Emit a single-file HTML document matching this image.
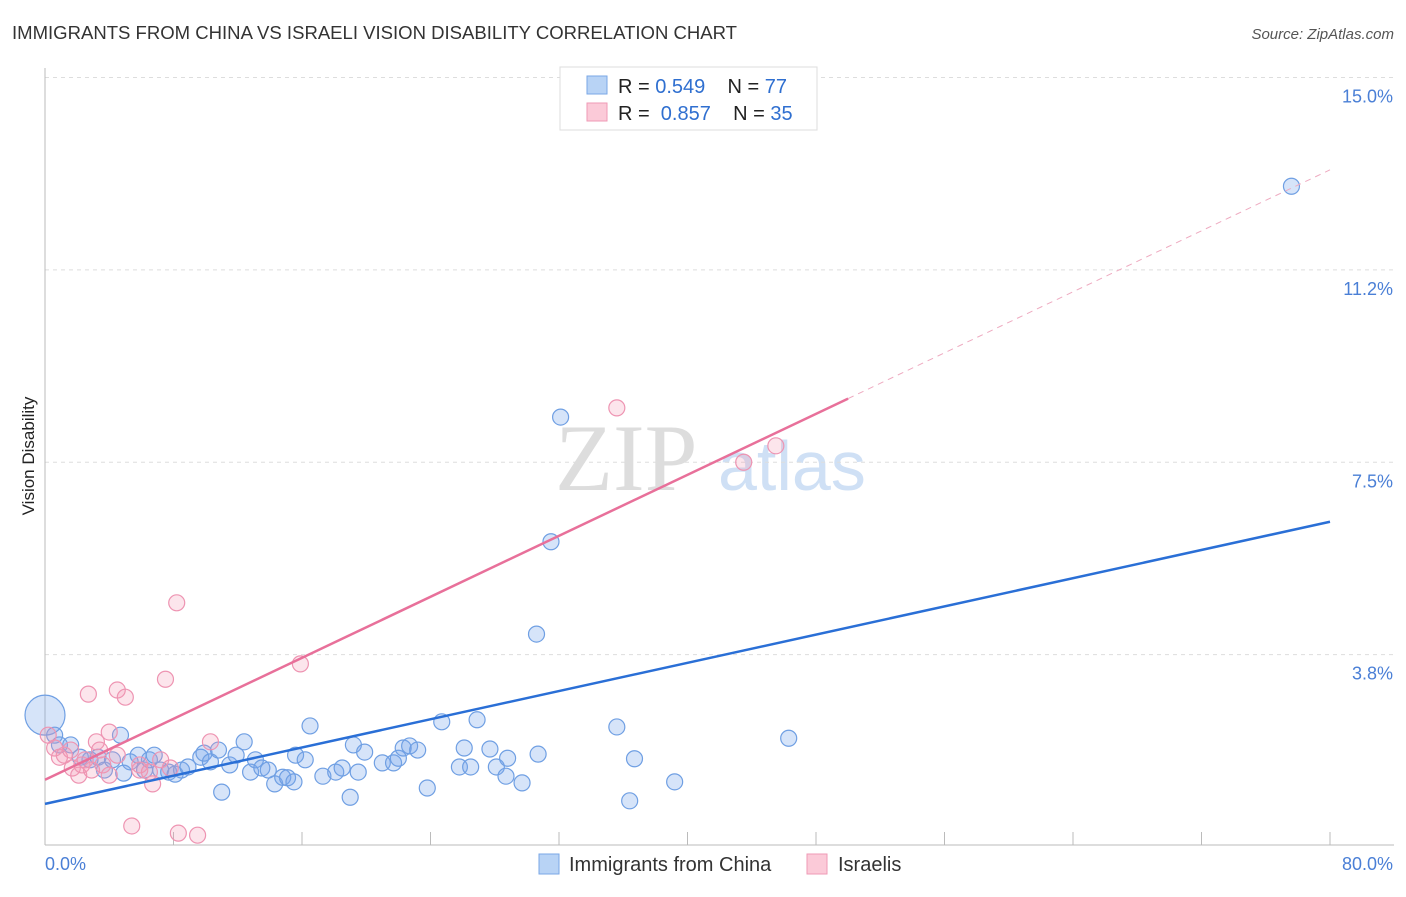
<!DOCTYPE html>
<html><head><meta charset="utf-8"><style>
body{margin:0;background:#fff;font-family:"Liberation Sans",sans-serif;}
</style></head><body>
<svg id="c" width="1406" height="892" xmlns="http://www.w3.org/2000/svg">
<text x="12" y="39" font-size="18" textLength="725" lengthAdjust="spacingAndGlyphs" fill="#333">IMMIGRANTS FROM CHINA VS ISRAELI VISION DISABILITY CORRELATION CHART</text>
<text x="1394" y="39" font-size="15" fill="#555" font-style="italic" text-anchor="end">Source: ZipAtlas.com</text>
<text x="34" y="456" font-size="17" fill="#222" text-anchor="middle" transform="rotate(-90 34 456)">Vision Disability</text>
<text x="555" y="490" font-size="95" fill="#ddd" font-family="Liberation Serif">ZIP</text>
<text x="718" y="490" font-size="70" fill="#cfe0f5">atlas</text>
<g id="grid"></g><g id="pts"></g><g id="lines"></g>
<rect x="560" y="67" width="257" height="63" fill="#fff" stroke="#ddd"/>
<rect x="587" y="76" width="20" height="18" fill="#b8d3f5" stroke="#7aa7e6"/>
<rect x="587" y="103" width="20" height="18" fill="#fbcad8" stroke="#ef9ab6"/>
<text x="618" y="93" font-size="20" fill="#222">R = <tspan fill="#2f6fd0">0.549</tspan>&#160;&#160;&#160; N = <tspan fill="#2f6fd0">77</tspan></text>
<text x="618" y="120" font-size="20" fill="#222">R = <tspan fill="#2f6fd0">&#160;0.857</tspan>&#160;&#160;&#160; N = <tspan fill="#2f6fd0">35</tspan></text>
<rect x="539" y="854" width="20" height="20" fill="#b8d3f5" stroke="#7aa7e6"/>
<text x="569" y="871" font-size="20" fill="#333">Immigrants from China</text>
<rect x="807" y="854" width="20" height="20" fill="#fbcad8" stroke="#ef9ab6"/>
<text x="838" y="871" font-size="20" fill="#333">Israelis</text>
<text x="45" y="870" font-size="18" fill="#4a7fd6">0.0%</text>
<text x="1393" y="870" font-size="18" fill="#4a7fd6" text-anchor="end">80.0%</text>
</svg>
<script>
const yTicks=[15.0,11.2,7.5,3.8];
const yTickVals=[15,11.25,7.5,3.75];
const chinaX=[0,0.6,0.9,1.6,2.2,2.8,3.3,3.7,4.2,4.7,4.9,5.3,5.8,6.2,6.5,6.8,7.2,7.7,8.1,8.5,8.9,9.7,9.9,10.3,10.8,11.0,11.5,11.9,12.4,12.8,13.1,13.5,13.9,14.3,14.8,15.1,15.5,15.6,16.2,16.5,17.3,18.1,18.5,19.0,19.2,19.5,19.9,21.0,21.7,22.0,22.3,22.7,23.2,23.8,24.7,25.8,26.1,26.5,26.9,27.7,28.1,28.7,28.8,29.7,30.6,30.7,31.5,32.1,35.6,36.4,36.7,39.2,46.3,77.6];
const chinaY=[2.57,2.18,1.99,1.99,1.75,1.70,1.75,1.50,1.70,2.18,1.44,1.66,1.79,1.50,1.70,1.79,1.50,1.46,1.42,1.50,1.56,1.75,1.83,1.66,1.89,1.07,1.60,1.79,2.05,1.46,1.70,1.54,1.50,1.23,1.36,1.35,1.27,1.79,1.70,2.36,1.38,1.46,1.54,0.97,1.99,1.46,1.85,1.64,1.64,1.73,1.93,1.97,1.89,1.15,2.44,1.56,1.93,1.56,2.48,1.91,1.56,1.38,1.73,1.25,4.15,1.81,5.95,8.38,2.34,0.90,1.72,1.27,2.12,12.88];
const isrX=[0.2,0.6,0.9,1.2,1.6,1.7,2.1,2.3,2.5,2.7,2.9,3.2,3.4,3.6,4.0,4.0,4.5,4.5,5.0,5.4,5.9,5.9,6.5,6.7,7.2,7.5,7.8,8.2,8.3,9.5,10.3,15.9,35.6,43.5,45.5];
const isrY=[2.18,1.93,1.75,1.79,1.89,1.54,1.40,1.60,1.70,2.98,1.50,2.05,1.89,1.60,2.24,1.40,3.06,1.79,2.92,0.41,1.50,1.60,1.46,1.23,1.70,3.27,1.54,4.76,0.27,0.23,2.05,3.57,8.56,7.50,7.82];
const chinaLine=[0.84,6.34];
const isrLine=[1.31,13.2];
const isrSolidEnd=50;
const X=v=>45+v/80*1285, Y=v=>847-v*51.3;
const NS="http://www.w3.org/2000/svg";
function mk(t,a,p){const e=document.createElementNS(NS,t);for(const k in a)e.setAttribute(k,a[k]);p.appendChild(e);return e;}
const grid=document.getElementById('grid');
yTickVals.forEach((v,i)=>{
 const l=mk('line',{x1:45,x2:1394,y1:Y(v),y2:Y(v),stroke:'#ddd','stroke-dasharray':'4 4'},grid);
 
 
 const t=mk('text',{x:1393,y:Y(v)+25,'font-size':18,fill:'#4a7fd6','text-anchor':'end'},grid);
 t.textContent=yTicks[i].toFixed(1)+'%';
 
 
});
const ax=mk('line',{x1:45,x2:45,y1:68,y2:845,stroke:'#bbb'},grid);


const bx=mk('line',{x1:45,x2:1394,y1:845,y2:845,stroke:'#bbb'},grid);


for(let i=0;i<=10;i++){const tk=mk('line',{x1:X(i*8),x2:X(i*8),y1:832,y2:845,stroke:'#bbb'},grid);
 
 }
const pts=document.getElementById('pts');
chinaX.forEach((x,i)=>{const c=mk('circle',{cx:X(x),cy:Y(chinaY[i]),r:i==0?20:8,fill:'rgba(120,165,235,0.3)',stroke:'#6f9fe3','stroke-width':1.2},pts);
 
 });
isrX.forEach((x,i)=>{const c=mk('circle',{cx:X(x),cy:Y(isrY[i]),r:8,fill:'rgba(245,150,180,0.25)',stroke:'#ee94b2','stroke-width':1.2},pts);
 
 });
const ln=document.getElementById('lines');
const bl=mk('line',{x1:X(0),y1:Y(chinaLine[0]),x2:X(80),y2:Y(chinaLine[1]),stroke:'#2a6fd6','stroke-width':2.5},ln);


const iy=x=>isrLine[0]+(isrLine[1]-isrLine[0])*x/80;
const pl=mk('line',{x1:X(0),y1:Y(iy(0)),x2:X(isrSolidEnd),y2:Y(iy(isrSolidEnd)),stroke:'#e8709a','stroke-width':2.5},ln);


const pd=mk('line',{x1:X(isrSolidEnd),y1:Y(iy(isrSolidEnd)),x2:X(80),y2:Y(iy(80)),stroke:'#eeaac0','stroke-width':1,'stroke-dasharray':'6 5'},ln);


</script>
</body></html>
